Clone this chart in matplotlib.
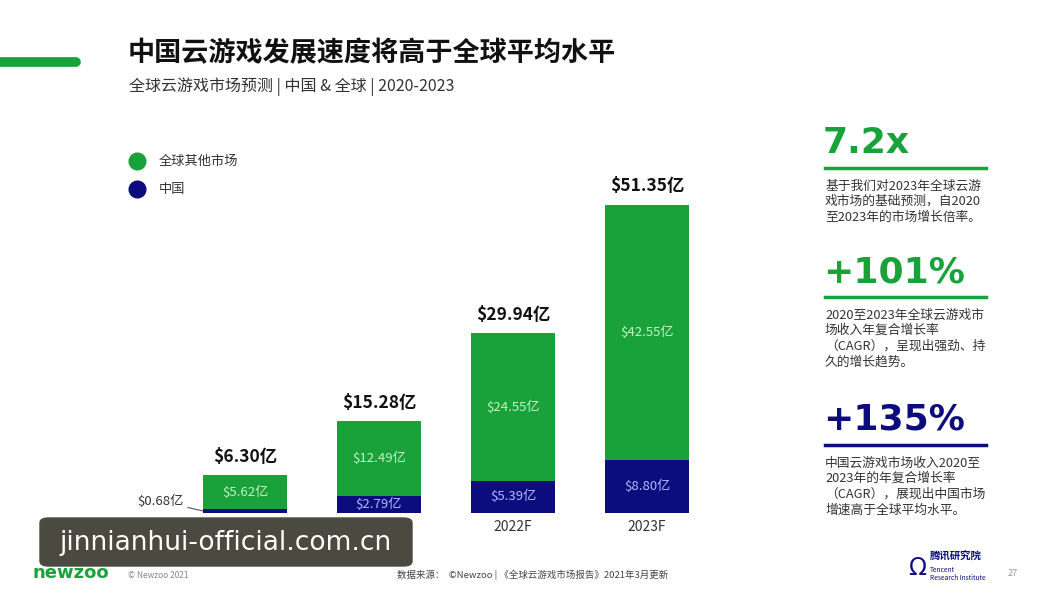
import matplotlib.pyplot as plt
from matplotlib.patches import FancyBboxPatch
from matplotlib.lines import Line2D

plt.rcParams["font.family"] = ["Noto Sans CJK SC", "DejaVu Sans"]

# === 数据 ===
years = ["2020", "2021F", "2022F", "2023F"]
china = [0.68, 2.79, 5.39, 8.80]
rest = [5.62, 12.49, 24.55, 42.55]
totals = [6.30, 15.28, 29.94, 51.35]

GREEN = "#19a23a"
NAVY = "#0c0c7e"
TXT = "#333333"

W, H = 1057, 604
fig = plt.figure(figsize=(W / 100, H / 100), dpi=100)
fig.patch.set_facecolor("white")


def fx(x):
    return x / W


def fy(y):
    return 1 - y / H


# 柱状图区域: 像素 x 111~781, 基线 y=513
ax = fig.add_axes([fx(111), fy(513), fx(781) - fx(111), fy(140) - fy(513)])
ax.set_xlim(-1, 4)
ax.set_ylim(0, (513 - 140) / 6.0)
ax.axis("off")

xs = list(range(len(years)))
bw = 0.627
ax.bar(xs, china, width=bw, color=NAVY, zorder=2)
ax.bar(xs, rest, width=bw, bottom=china, color=GREEN, zorder=2)

for i, (c, r, t) in enumerate(zip(china, rest, totals)):
    ax.text(i, t + 1.6, f"${t:.2f}亿", ha="center", va="bottom",
            fontsize=12.5, fontweight="bold", color="#111111")
    ax.text(i, c + r / 2, f"${r:.2f}亿", ha="center", va="center",
            fontsize=9.5, color="#c4f2c4")
    if i > 0:
        ax.text(i, c / 2, f"${c:.2f}亿", ha="center", va="center",
                fontsize=9.5, color="#b4b8ff")
    ax.text(i, -1.2, years[i], ha="center", va="top", fontsize=10, color=TXT)

# 2020 中国份额标注
ax.annotate(f"${china[0]:.2f}亿", xy=(0 - bw / 2, china[0] / 2),
            xytext=(-14, 7), textcoords="offset points",
            ha="right", va="center", fontsize=9.5, color=TXT,
            arrowprops=dict(arrowstyle="-", color="#555555", lw=0.8,
                            shrinkA=1, shrinkB=0))

# === 标题 ===
fig.add_artist(Line2D([fx(0), fx(76)], [fy(62), fy(62)], color=GREEN,
                      lw=7, solid_capstyle="round"))
fig.text(fx(128), fy(53), "中国云游戏发展速度将高于全球平均水平",
         fontsize=19.5, fontweight="bold", color="#111111", va="center")
fig.text(fx(129), fy(87), "全球云游戏市场预测 | 中国 & 全球 | 2020-2023",
         fontsize=11.5, color=TXT, va="center")

# === 图例 ===
for yy, col, lab in [(161, GREEN, "全球其他市场"), (189, NAVY, "中国")]:
    fig.add_artist(Line2D([fx(137)], [fy(yy)], marker="o", markersize=12,
                          color=col, linestyle="none"))
    fig.text(fx(159), fy(yy), lab, fontsize=9.5, color=TXT, va="center")

# === 右侧说明 ===
panels = [
    ("7.2x", GREEN, 143, 168,
     ["基于我们对2023年全球云游", "戏市场的基础预测，自2020", "至2023年的市场增长倍率。"]),
    ("+101%", GREEN, 272, 297,
     ["2020至2023年全球云游戏市", "场收入年复合增长率", "（CAGR），呈现出强劲、持", "久的增长趋势。"]),
    ("+135%", NAVY, 420, 445,
     ["中国云游戏市场收入2020至", "2023年的年复合增长率", "（CAGR），展现出中国市场", "增速高于全球平均水平。"]),
]
for big, col, ybig, yline, lines in panels:
    fig.text(fx(823), fy(ybig), big, fontsize=26, fontweight="heavy",
             color=col, va="center", family=["DejaVu Sans"])
    fig.add_artist(Line2D([fx(825), fx(986)], [fy(yline), fy(yline)],
                          color=col, lw=2.5))
    for k, ln in enumerate(lines):
        fig.text(fx(825), fy(yline + 18 + k * 15.6), ln, fontsize=9.2,
                 color=TXT, va="center")

# === 页脚 ===
fig.text(fx(33), fy(573), "newzoo", fontsize=13, fontweight="bold",
         color=GREEN, va="center", family=["DejaVu Sans"])
fig.text(fx(128), fy(575), "© Newzoo 2021", fontsize=6, color="#888888",
         va="center")
fig.text(fx(397), fy(575), "数据来源：  ©Newzoo | 《全球云游戏市场报告》2021年3月更新",
         fontsize=6.8, color="#444444", va="center")
fig.text(fx(908), fy(568), "Ω", fontsize=17, color=NAVY, va="center",
         family=["DejaVu Sans"])
fig.text(fx(930), fy(556), "腾讯研究院", fontsize=7.5, fontweight="bold",
         color=NAVY, va="center")
fig.text(fx(930), fy(570), "Tencent", fontsize=4.8, color=NAVY, va="center")
fig.text(fx(930), fy(578), "Research Institute", fontsize=4.8, color=NAVY,
         va="center")
fig.text(fx(1008), fy(574), "27", fontsize=6.5, color="#999999", va="center")

# === 水印 ===
fig.add_artist(FancyBboxPatch((fx(40), fy(566)), fx(372), 48 / H,
                              boxstyle="round,pad=0,rounding_size=0.008",
                              transform=fig.transFigure, color="#4b4a40",
                              zorder=5))
fig.text(fx(226), fy(543), "jinnianhui-official.com.cn", fontsize=19,
         color="white", ha="center", va="center", zorder=6,
         family=["DejaVu Sans"])

fig.savefig("out.png", dpi=100)
